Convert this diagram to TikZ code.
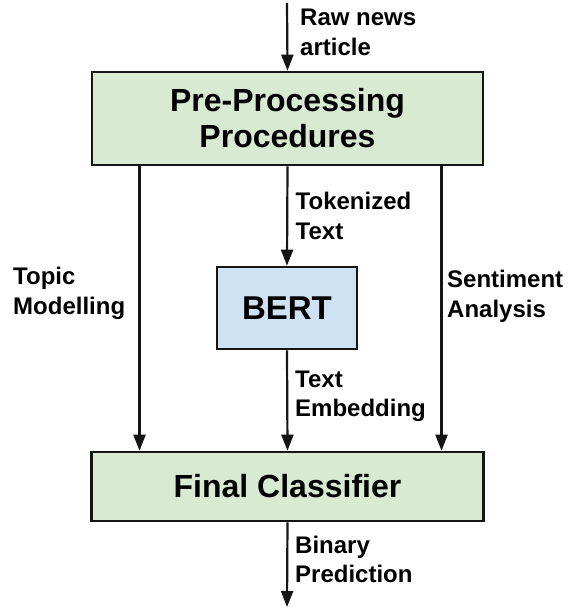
\documentclass[tikz,border=0pt]{standalone}
\usepackage{fontspec}
\setmainfont{Liberation Sans}
\usetikzlibrary{arrows.meta}
\definecolor{boxgreen}{HTML}{D9EAD3}
\definecolor{boxblue}{HTML}{CFE2F3}
\definecolor{edge}{HTML}{151515}
\tikzset{
  stage/.style={draw=edge, line width=2.6pt, inner sep=0pt, align=center,
    font=\fontsize{32}{36}\selectfont\bfseries},
  flow/.style={draw=edge, line width=2.2pt,
    -{Triangle[length=16pt,width=12pt]}},
  lbl/.style={anchor=west, inner sep=0pt, align=left,
    font=\fontsize{24}{29.5}\selectfont\bfseries}
}
\begin{document}
\begin{tikzpicture}[x=1pt, y=-1pt]
  \useasboundingbox (0,0) rectangle (572,608);

  % processing stages
  \node[stage, fill=boxgreen, minimum width=391pt, minimum height=93pt]
    (pre) at (287.5,118.5) {Pre-Processing\\Procedures};
  \node[stage, fill=boxblue, minimum width=140pt, minimum height=82pt,
    font=\fontsize{33}{36}\selectfont\bfseries]
    (bert) at (287,308) {BERT};
  \node[stage, fill=boxgreen, minimum width=392pt, minimum height=69pt]
    (fin) at (287.5,486.5) {Final Classifier};

  % free ends and side branch positions
  \coordinate (in) at (287,3);
  \coordinate (out) at (287,607);
  \coordinate (left) at (139.5,0);
  \coordinate (right) at (441.5,0);

  % connectors
  \draw[flow] (in) -- (pre.north);
  \draw[flow] (pre.south) -- (bert.north);
  \draw[flow] (bert.south) -- (fin.north);
  \draw[flow] (pre.south -| left) -- (fin.north -| left);
  \draw[flow] (pre.south -| right) -- (fin.north -| right);
  \draw[flow] (fin.south) -- (out);

  % connector labels
  \node[lbl] (lraw) at (300,34.6) {\strut Raw news\\\strut article};
  \node[lbl] (ltok) at (295.5,218.8) {\strut Tokenized\\\strut Text};
  \node[lbl] (ltop) at (13,293.5) {\strut Topic\\\strut Modelling};
  \node[lbl] (lsen) at (447,296.5) {\strut Sentiment\\\strut Analysis};
  \node[lbl] (lemb) at (295,396.1) {\strut Text\\\strut Embedding};
  \node[lbl] (lbin) at (295,562.1) {\strut Binary\\\strut Prediction};
\end{tikzpicture}
\end{document}
